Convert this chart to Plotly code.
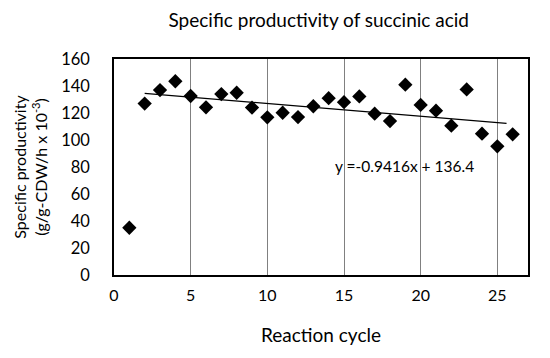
import plotly.graph_objects as go

cycles = list(range(1, 27))
productivity = [35, 127, 137, 143.5, 132.6, 124.2, 134, 135, 124, 116.8,
                120.2, 117, 125, 131, 128, 132.3, 119.5, 114, 141, 126,
                121.7, 110.6, 137.5, 104.7, 95.3, 104.2]
trend_x = [2, 25.6]
slope, intercept = -0.9416, 136.4
trend_y = [slope * x + intercept for x in trend_x]
x_ticks = [0, 5, 10, 15, 20, 25]
y_ticks = [0, 20, 40, 60, 80, 100, 120, 140, 160]

FONT = "Lato"

fig = go.Figure()
fig.add_trace(go.Scatter(x=trend_x, y=trend_y, mode="lines",
                         line=dict(color="black", width=1.3), showlegend=False))
fig.add_trace(go.Scatter(x=cycles, y=productivity, mode="markers",
                         marker=dict(symbol="diamond", size=11, color="black"),
                         showlegend=False))

fig.add_annotation(x=14.25, y=81, text="y =-0.9416x + 136.4", showarrow=False,
                   xanchor="left", yanchor="middle",
                   font=dict(family=FONT, size=15.5, color="black"))

fig.update_layout(
    width=550, height=358,
    margin=dict(l=106, r=30, t=51, b=91, autoexpand=False),
    paper_bgcolor="white", plot_bgcolor="white",
    title=dict(text="Specific productivity of succinic acid", x=0.565, xanchor="center",
               y=0.966, yanchor="middle", automargin=False,
               font=dict(family=FONT, size=19, color="black")),
    xaxis=dict(range=[0, 27], tickvals=x_ticks, showgrid=True, gridcolor="#808080",
               gridwidth=1, zeroline=False, showline=True, linecolor="black",
               linewidth=1.5, mirror=True, ticks="", automargin=False,
               ticklabelstandoff=5,
               tickfont=dict(family=FONT, size=16, color="black"),
               title=dict(text="Reaction cycle", standoff=26,
                          font=dict(family=FONT, size=19, color="black"))),
    yaxis=dict(range=[0, 160], tickvals=y_ticks, showgrid=False, zeroline=False,
               showline=True, linecolor="black", linewidth=1.5, mirror=True, ticks="",
               ticklabelstandoff=19, automargin=False,
               tickfont=dict(family=FONT, size=16.5, color="black"),
               title=dict(text="Specific productivity<br>(g/g-CDW/h x 10<sup>-3</sup>)",
                          standoff=10,
                          font=dict(family=FONT, size=16, color="black"))),
)

fig.write_html("out.html")
